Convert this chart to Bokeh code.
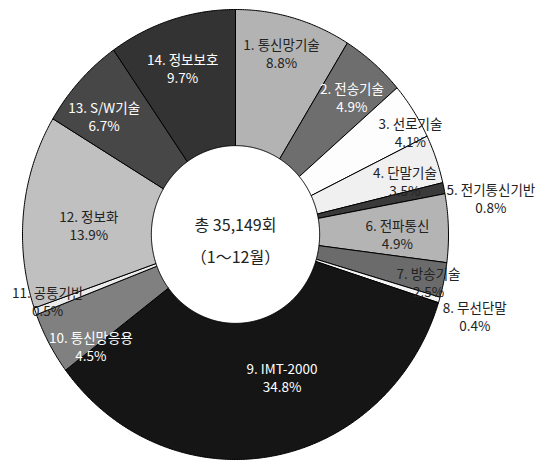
import numpy as np
from bokeh.plotting import figure
from bokeh.models import ColumnDataSource, Range1d
from bokeh.embed import file_html
from bokeh.resources import INLINE
from bokeh.core.properties import value

# ---- data ----
categories = ["1. 통신망기술", "2. 전송기술", "3. 선로기술", "4. 단말기술", "5. 전기통신기반",
              "6. 전파통신", "7. 방송기술", "8. 무선단말", "9. IMT-2000", "10. 통신망응용",
              "11. 공통기반", "12. 정보화", "13. S/W기술", "14. 정보보호"]
shares = [8.8, 4.9, 4.1, 3.5, 0.8, 4.9, 2.5, 0.4, 34.8, 4.5, 0.5, 13.9, 6.7, 9.7]
center_lines = ["총 35,149회", "（1～12월）"]

# ---- styles / layout ----
colors = ["#b3b3b3", "#6e6e6e", "#fdfdfd", "#f0f0f0", "#3a3a3a", "#b4b4b4", "#6b6b6b",
          "#f4f4f4", "#151515", "#808080", "#ececec", "#c0c0c0", "#474747", "#333333"]
label_colors = ["#222222", "#ffffff", "#222222", "#222222", "#222222", "#222222", "#222222",
                "#222222", "#ffffff", "#ffffff", "#222222", "#222222", "#ffffff", "#ffffff"]
label_r = [0.833, 0.82, 0.94, 0.83, 1.21, 0.76, 0.93, 1.18, 0.67, 0.84, 0.93, 0.69, 0.81, 0.78]
label_dang = [-0.8, 1.3, 4.2, 3.0, 4.1, 1.6, 1.3, 0.9, -9.3, -7.1, 1.5, -2.3, -2.6, -1.1]
R_OUT, R_IN = 1.0, 0.395

W, H = 539, 461
CX, CY, RX, RY = 235, 234, 213, 225

p = figure(width=W, height=H, output_backend="svg", toolbar_location=None,
           x_range=Range1d(-CX / RX, (W - CX) / RX), y_range=Range1d(-(H - CY) / RY, CY / RY),
           min_border=0, outline_line_color=None, background_fill_color="white")
p.axis.visible = False
p.grid.visible = False

vals = np.array(shares, dtype=float)
frac = vals / vals.sum()
cum = np.concatenate([[0.0], np.cumsum(frac)])

xs, ys = [], []
for i in range(len(vals)):
    a0 = np.pi / 2 - 2 * np.pi * cum[i]
    a1 = np.pi / 2 - 2 * np.pi * cum[i + 1]
    n = max(4, int(abs(a1 - a0) * 120))
    t = np.linspace(a0, a1, n)
    ox, oy = R_OUT * np.cos(t), R_OUT * np.sin(t)
    ix, iy = R_IN * np.cos(t[::-1]), R_IN * np.sin(t[::-1])
    xs.append(list(np.concatenate([ox, ix])))
    ys.append(list(np.concatenate([oy, iy])))

src = ColumnDataSource(dict(xs=xs, ys=ys, color=colors))
p.patches("xs", "ys", source=src, fill_color="color", line_color="black", line_width=1)

mid = (cum[:-1] + cum[1:]) / 2
ang = np.deg2rad(90 - (mid * 360 + np.array(label_dang)))
lx = np.array(label_r) * np.cos(ang)
ly = np.array(label_r) * np.sin(ang)
lsrc = ColumnDataSource(dict(x=lx, y=ly, name=categories,
                             pct=[f"{v:.1f}%" for v in shares], tc=label_colors))
font = value("Noto Sans CJK KR")
p.text("x", "y", text="name", source=lsrc, text_color="tc", text_font=font,
       text_font_size="13.5px", text_align="center", text_baseline="middle", y_offset=-9)
p.text("x", "y", text="pct", source=lsrc, text_color="tc", text_font=font,
       text_font_size="13.5px", text_align="center", text_baseline="middle", y_offset=9)

csrc = ColumnDataSource(dict(x=[0, 0], y=[0, 0], t=center_lines, off=[-11, 21]))
p.text("x", "y", text="t", source=csrc, text_color="#222222", text_font=font,
       text_font_size="16px", text_align="center", text_baseline="middle", y_offset="off")

open("out.html", "w").write(file_html(p, INLINE))
